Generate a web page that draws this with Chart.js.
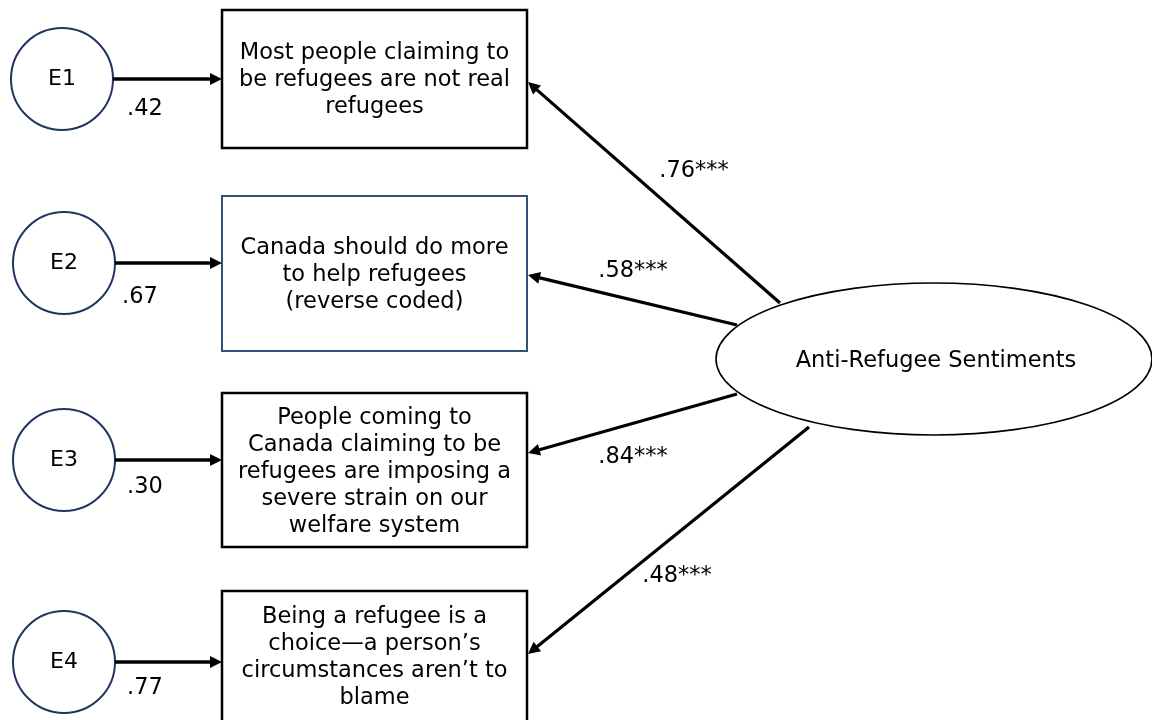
<!DOCTYPE html>
<html>
<head>
<meta charset="utf-8">
<script src="https://cdn.jsdelivr.net/npm/chart.js@4/dist/chart.umd.min.js"></script>
<style>
  html, body { margin: 0; padding: 0; background: #fff; }
  #wrap { width: 1152px; height: 720px; }
</style>
</head>
<body>
<div id="wrap"><canvas id="myChart"></canvas></div>
<script>
// datos del modelo
const errorNames = ['E1', 'E2', 'E3', 'E4'];
const errorVariances = [0.42, 0.67, 0.30, 0.77];
const loadings = [0.76, 0.58, 0.84, 0.48];
const loadingStars = ['***', '***', '***', '***'];
const itemLines = [
    ['Most people claiming to', 'be refugees are not real', 'refugees'],
    ['Canada should do more', 'to help refugees', '(reverse coded)'],
    ['People coming to', 'Canada claiming to be', 'refugees are imposing a', 'severe strain on our', 'welfare system'],
    ['Being a refugee is a', 'choice\u2014a person\u2019s', 'circumstances aren\u2019t to', 'blame']
];
const factorName = 'Anti-Refugee Sentiments';

// layout (unidades del diagrama, 0..1152 x 0..720)
const circleX = [62, 64, 64, 64];
const circleY = [79, 263, 460, 662];
const circleR = 51;
const boxLeft = 222, boxRight = 527;
const boxTop = [10, 196, 393, 591];
const boxBottom = [148, 351, 547, 760];
const boxTextMid = [80, 275, 472, 658];
const boxColors = ['#000', '#34507a', '#000', '#000'];
const factorBox = { x: 934, y: 359, rx: 218, ry: 76 };
const pathFrom = [[780, 303], [737, 325], [737, 394], [809, 427]];
const pathTo = [[528, 82], [528, 275], [528, 453], [528, 654]];
const varLabelPos = [[145, 109], [140, 297], [145, 487], [145, 688]];
const loadLabelPos = [[694, 171], [633, 271], [633, 457], [677, 576]];

const FONT = '"DejaVu Sans", sans-serif';
const HEAD_LEN = 12, HEAD_W = 6;

function fmt(v) {
    return v.toFixed(2).replace(/^0/, '');
}

// acorta un segmento para que la punta de flecha quede limpia
function shorten(a, b, d) {
    const dx = b[0] - a[0], dy = b[1] - a[1];
    const len = Math.hypot(dx, dy);
    return [b[0] - dx / len * d, b[1] - dy / len * d];
}

const datasets = [];

// flechas de error -> item
errorNames.forEach((n, i) => {
    const a = [circleX[i] + circleR, circleY[i]];
    const b = [boxLeft, circleY[i]];
    const e = shorten(a, b, HEAD_LEN - 2);
    datasets.push({
        label: 'err' + n,
        data: [{ x: a[0], y: a[1] }, { x: e[0], y: e[1] }],
        showLine: true, borderColor: '#000', borderWidth: 3.5,
        pointRadius: 0, borderCapStyle: 'butt', clip: false
    });
});

// flechas factor -> item
loadings.forEach((v, i) => {
    const e = shorten(pathFrom[i], pathTo[i], HEAD_LEN - 2);
    datasets.push({
        label: 'load' + i,
        data: [{ x: pathFrom[i][0], y: pathFrom[i][1] }, { x: e[0], y: e[1] }],
        showLine: true, borderColor: '#000', borderWidth: 3.2,
        pointRadius: 0, borderCapStyle: 'butt', clip: false
    });
});

// circulos de error
datasets.push({
    label: 'errores',
    data: circleX.map((x, i) => ({ x: x, y: circleY[i] })),
    showLine: false,
    pointStyle: 'circle',
    pointRadius: circleR,
    pointBorderWidth: 2,
    pointBorderColor: '#1f3560',
    pointBackgroundColor: '#fff',
    clip: false
});

const diagramPlugin = {
    id: 'diagram',
    beforeDatasetsDraw(chart) {
        const ctx = chart.ctx;
        const sx = chart.scales.x, sy = chart.scales.y;
        ctx.save();
        // cajas de items
        itemLines.forEach((lines, i) => {
            const x0 = sx.getPixelForValue(boxLeft), x1 = sx.getPixelForValue(boxRight);
            const y0 = sy.getPixelForValue(boxTop[i]), y1 = sy.getPixelForValue(boxBottom[i]);
            ctx.fillStyle = '#fff';
            ctx.fillRect(x0, y0, x1 - x0, y1 - y0);
            ctx.lineWidth = i === 1 ? 2 : 2.5;
            ctx.strokeStyle = boxColors[i];
            ctx.strokeRect(x0, y0, x1 - x0, y1 - y0);
        });
        // elipse del factor
        const cx = sx.getPixelForValue(factorBox.x), cy = sy.getPixelForValue(factorBox.y);
        const rx = sx.getPixelForValue(factorBox.x + factorBox.rx) - cx;
        const ry = Math.abs(sy.getPixelForValue(factorBox.y + factorBox.ry) - cy);
        ctx.beginPath();
        ctx.ellipse(cx, cy, rx, ry, 0, 0, Math.PI * 2);
        ctx.fillStyle = '#fff';
        ctx.fill();
        ctx.lineWidth = 1.6;
        ctx.strokeStyle = '#000';
        ctx.stroke();
        ctx.restore();
    },
    afterDatasetsDraw(chart) {
        const ctx = chart.ctx;
        const sx = chart.scales.x, sy = chart.scales.y;
        const P = p => [sx.getPixelForValue(p[0]), sy.getPixelForValue(p[1])];
        ctx.save();

        function head(from, to) {
            const a = P(from), b = P(to);
            const ang = Math.atan2(b[1] - a[1], b[0] - a[0]);
            ctx.beginPath();
            ctx.moveTo(b[0], b[1]);
            ctx.lineTo(b[0] - HEAD_LEN * Math.cos(ang) + HEAD_W * Math.sin(ang),
                       b[1] - HEAD_LEN * Math.sin(ang) - HEAD_W * Math.cos(ang));
            ctx.lineTo(b[0] - HEAD_LEN * Math.cos(ang) - HEAD_W * Math.sin(ang),
                       b[1] - HEAD_LEN * Math.sin(ang) + HEAD_W * Math.cos(ang));
            ctx.closePath();
            ctx.fillStyle = '#000';
            ctx.fill();
        }

        errorNames.forEach((n, i) => {
            head([circleX[i] + circleR, circleY[i]], [boxLeft, circleY[i]]);
        });
        loadings.forEach((v, i) => head(pathFrom[i], pathTo[i]));

        ctx.fillStyle = '#000';
        ctx.textAlign = 'center';
        ctx.textBaseline = 'middle';

        // textos de los items
        ctx.font = '22.5px ' + FONT;
        const midX = sx.getPixelForValue((boxLeft + boxRight) / 2);
        itemLines.forEach((lines, i) => {
            const mid = sy.getPixelForValue(boxTextMid[i]);
            const lh = 27;
            lines.forEach((t, k) => {
                ctx.fillText(t, midX, mid + (k - (lines.length - 1) / 2) * lh);
            });
        });

        // factor
        ctx.fillText(factorName, sx.getPixelForValue(factorBox.x + 2), sy.getPixelForValue(factorBox.y + 2));

        // varianzas de error y cargas
        errorVariances.forEach((v, i) => {
            const p = P(varLabelPos[i]);
            ctx.fillText(fmt(v), p[0], p[1]);
        });
        loadings.forEach((v, i) => {
            const p = P(loadLabelPos[i]);
            ctx.fillText(fmt(v) + loadingStars[i], p[0], p[1]);
        });

        // nombres de error
        ctx.font = '22px ' + FONT;
        errorNames.forEach((n, i) => {
            const p = P([circleX[i], circleY[i]]);
            ctx.fillText(n, p[0], p[1]);
        });
        ctx.restore();
    }
};

const ctx = document.getElementById('myChart').getContext('2d');
const chart = new Chart(ctx, {
    type: 'scatter',
    data: { datasets: datasets },
    options: {
        responsive: true,
        maintainAspectRatio: false,
        animation: false,
        events: [],
        layout: { padding: 0, autoPadding: false },
        plugins: { legend: { display: false }, tooltip: { enabled: false } },
        scales: {
            x: { type: 'linear', min: 0, max: 1152, display: false },
            y: { type: 'linear', min: 0, max: 720, reverse: true, display: false }
        }
    },
    plugins: [diagramPlugin]
});
</script>
</body>
</html>
